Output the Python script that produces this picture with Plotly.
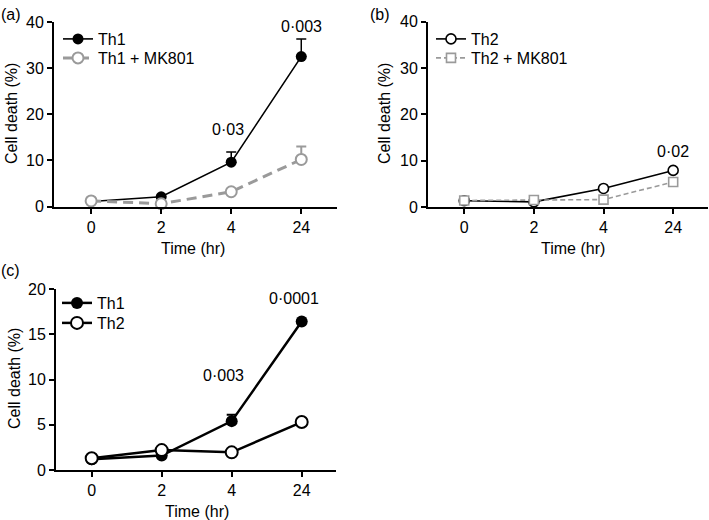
import plotly.graph_objects as go

W, H = 709, 520

time_labels = ["0", "2", "4", "24"]

# Panel (a)
a_th1 = [1.1, 2.1, 9.6, 32.5]
a_th1_err = [0, 0, 2.2, 3.8]
a_th1_mk = [1.2, 0.6, 3.2, 10.2]
a_th1_mk_err = [0, 0, 0, 2.8]

# Panel (b)
b_th2 = [1.35, 1.1, 4.0, 7.9]
b_th2_mk = [1.4, 1.5, 1.6, 5.4]

# Panel (c)
c_th1 = [1.2, 1.6, 5.4, 16.4]
c_th1_err = [0, 0, 0.7, 0]
c_th2 = [1.3, 2.2, 1.95, 5.3]

# p-value annotations
a_pvals = [("4", 16.7, "0·03"), ("24", 39.0, "0·003")]
b_pvals = [("24", 11.9, "0·02")]
c_pvals = [("4", 10.4, "0·003"), ("24", 18.9, "0·0001")]

FONT = "Liberation Sans, Arial, Helvetica, sans-serif"
FS = 16
GREY = "#9a9a9a"

fig = go.Figure()

def err(vals, color, width=5, thick=1.5):
    return dict(type="data", symmetric=False, array=vals, arrayminus=[0] * len(vals),
                color=color, thickness=thick, width=width, visible=True)

# (a)
fig.add_trace(go.Scatter(x=time_labels, y=a_th1, name="Th1", mode="lines+markers",
                         line=dict(color="black", width=1.6),
                         marker=dict(symbol="circle", size=11, color="black"),
                         error_y=err(a_th1_err, "black"),
                         xaxis="x", yaxis="y", legend="legend", cliponaxis=False))
fig.add_trace(go.Scatter(x=time_labels, y=a_th1_mk, name="Th1 + MK801", mode="lines+markers",
                         line=dict(color=GREY, width=3, dash="10px,6px"),
                         marker=dict(symbol="circle", size=11, color="white",
                                     line=dict(color=GREY, width=2)),
                         error_y=err(a_th1_mk_err, GREY, thick=2),
                         xaxis="x", yaxis="y", legend="legend2", cliponaxis=False))
# (b)
fig.add_trace(go.Scatter(x=time_labels, y=b_th2, name="Th2", mode="lines+markers",
                         line=dict(color="black", width=1.6),
                         marker=dict(symbol="circle", size=10, color="white",
                                     line=dict(color="black", width=1.6)),
                         xaxis="x2", yaxis="y2", legend="legend3", cliponaxis=False))
fig.add_trace(go.Scatter(x=time_labels, y=b_th2_mk, name="Th2 + MK801", mode="lines+markers",
                         line=dict(color=GREY, width=1.6, dash="5px,3px"),
                         marker=dict(symbol="square", size=9, color="white",
                                     line=dict(color=GREY, width=1.6)),
                         xaxis="x2", yaxis="y2", legend="legend4", cliponaxis=False))
# (c)
fig.add_trace(go.Scatter(x=time_labels, y=c_th1, name="Th1", mode="lines+markers",
                         line=dict(color="black", width=2.5),
                         marker=dict(symbol="circle", size=12, color="black"),
                         error_y=err(c_th1_err, "black", thick=2),
                         xaxis="x3", yaxis="y3", legend="legend5", cliponaxis=False))
fig.add_trace(go.Scatter(x=time_labels, y=c_th2, name="Th2", mode="lines+markers",
                         line=dict(color="black", width=2.5),
                         marker=dict(symbol="circle", size=12, color="white",
                                     line=dict(color="black", width=2)),
                         xaxis="x3", yaxis="y3", legend="legend6", cliponaxis=False))

def px_x(p):
    return p / W

def px_y(p):
    return 1 - p / H

axis_common = dict(showline=True, linecolor="black", linewidth=2, ticks="outside",
                   ticklen=5, tickwidth=2, tickcolor="black", showgrid=False, zeroline=False,
                   automargin=False,
                   tickfont=dict(family=FONT, size=FS, color="black"), fixedrange=True)

layout = dict(
    template="none",
    width=W, height=H, margin=dict(l=0, r=0, t=0, b=0, pad=0), autosize=False,
    paper_bgcolor="white", plot_bgcolor="white",
    font=dict(family=FONT, size=FS, color="black"),
    xaxis=dict(domain=[px_x(54), px_x(337)], anchor="y", type="category",
               categoryorder="array", categoryarray=time_labels,
               range=[-0.53, 3.51], **axis_common),
    yaxis=dict(domain=[px_y(206.5), px_y(22)], anchor="x", range=[0, 40], dtick=10,
               **axis_common),
    xaxis2=dict(domain=[px_x(428), px_x(708)], anchor="y2", type="category",
                categoryorder="array", categoryarray=time_labels,
                range=[-0.52, 3.5], **axis_common),
    yaxis2=dict(domain=[px_y(207), px_y(21.7)], anchor="x2", range=[0, 40], dtick=10,
                **axis_common),
    xaxis3=dict(domain=[px_x(56), px_x(336)], anchor="y3", type="category",
                categoryorder="array", categoryarray=time_labels,
                range=[-0.51, 3.49], **axis_common),
    yaxis3=dict(domain=[px_y(470), px_y(289)], anchor="x3", range=[0, 20], dtick=5,
                **axis_common),
)

leg_common = dict(bgcolor="rgba(0,0,0,0)", borderwidth=0, xanchor="left", yanchor="top",
                  font=dict(family=FONT, size=FS, color="black"), tracegroupgap=0,
                  itemclick=False, itemdoubleclick=False)
leg_pos = {
    "legend": (58, 22), "legend2": (58, 41),
    "legend3": (431, 22), "legend4": (431, 41),
    "legend5": (57, 286), "legend6": (57, 306),
}
for k, (lx, ly) in leg_pos.items():
    layout[k] = dict(x=px_x(lx), y=px_y(ly), **leg_common)
layout["showlegend"] = True

fig.update_layout(**layout)

ann = []
def add_text(text, x, y, **kw):
    d = dict(text=text, x=x, y=y, showarrow=False, xanchor="center", yanchor="middle",
             font=dict(family=FONT, size=FS, color="black"))
    d.update(kw)
    ann.append(d)

# panel labels
add_text("(a)", px_x(11), px_y(14), xref="paper", yref="paper")
add_text("(b)", px_x(380), px_y(14), xref="paper", yref="paper")
add_text("(c)", px_x(10), px_y(270), xref="paper", yref="paper")

# axis titles
add_text("Cell death (%)", px_x(11), px_y(114), xref="paper", yref="paper", textangle=-90)
add_text("Cell death (%)", px_x(384), px_y(114), xref="paper", yref="paper", textangle=-90)
add_text("Cell death (%)", px_x(14), px_y(379), xref="paper", yref="paper", textangle=-90)
add_text("Time (hr)", px_x(193), px_y(248), xref="paper", yref="paper")
add_text("Time (hr)", px_x(573), px_y(248), xref="paper", yref="paper")
add_text("Time (hr)", px_x(197), px_y(511), xref="paper", yref="paper")

for xc, yv, t in a_pvals:
    add_text(t, time_labels.index(xc), yv, xref="x", yref="y",
             xshift=-3 if xc == "4" else 0)
for xc, yv, t in b_pvals:
    add_text(t, time_labels.index(xc), yv, xref="x2", yref="y2")
for xc, yv, t in c_pvals:
    add_text(t, time_labels.index(xc), yv, xref="x3", yref="y3", xshift=-8)

fig.update_layout(annotations=ann)

fig.write_html("out.html", config={"displayModeBar": False},
               post_script="document.body.style.margin='0';")
